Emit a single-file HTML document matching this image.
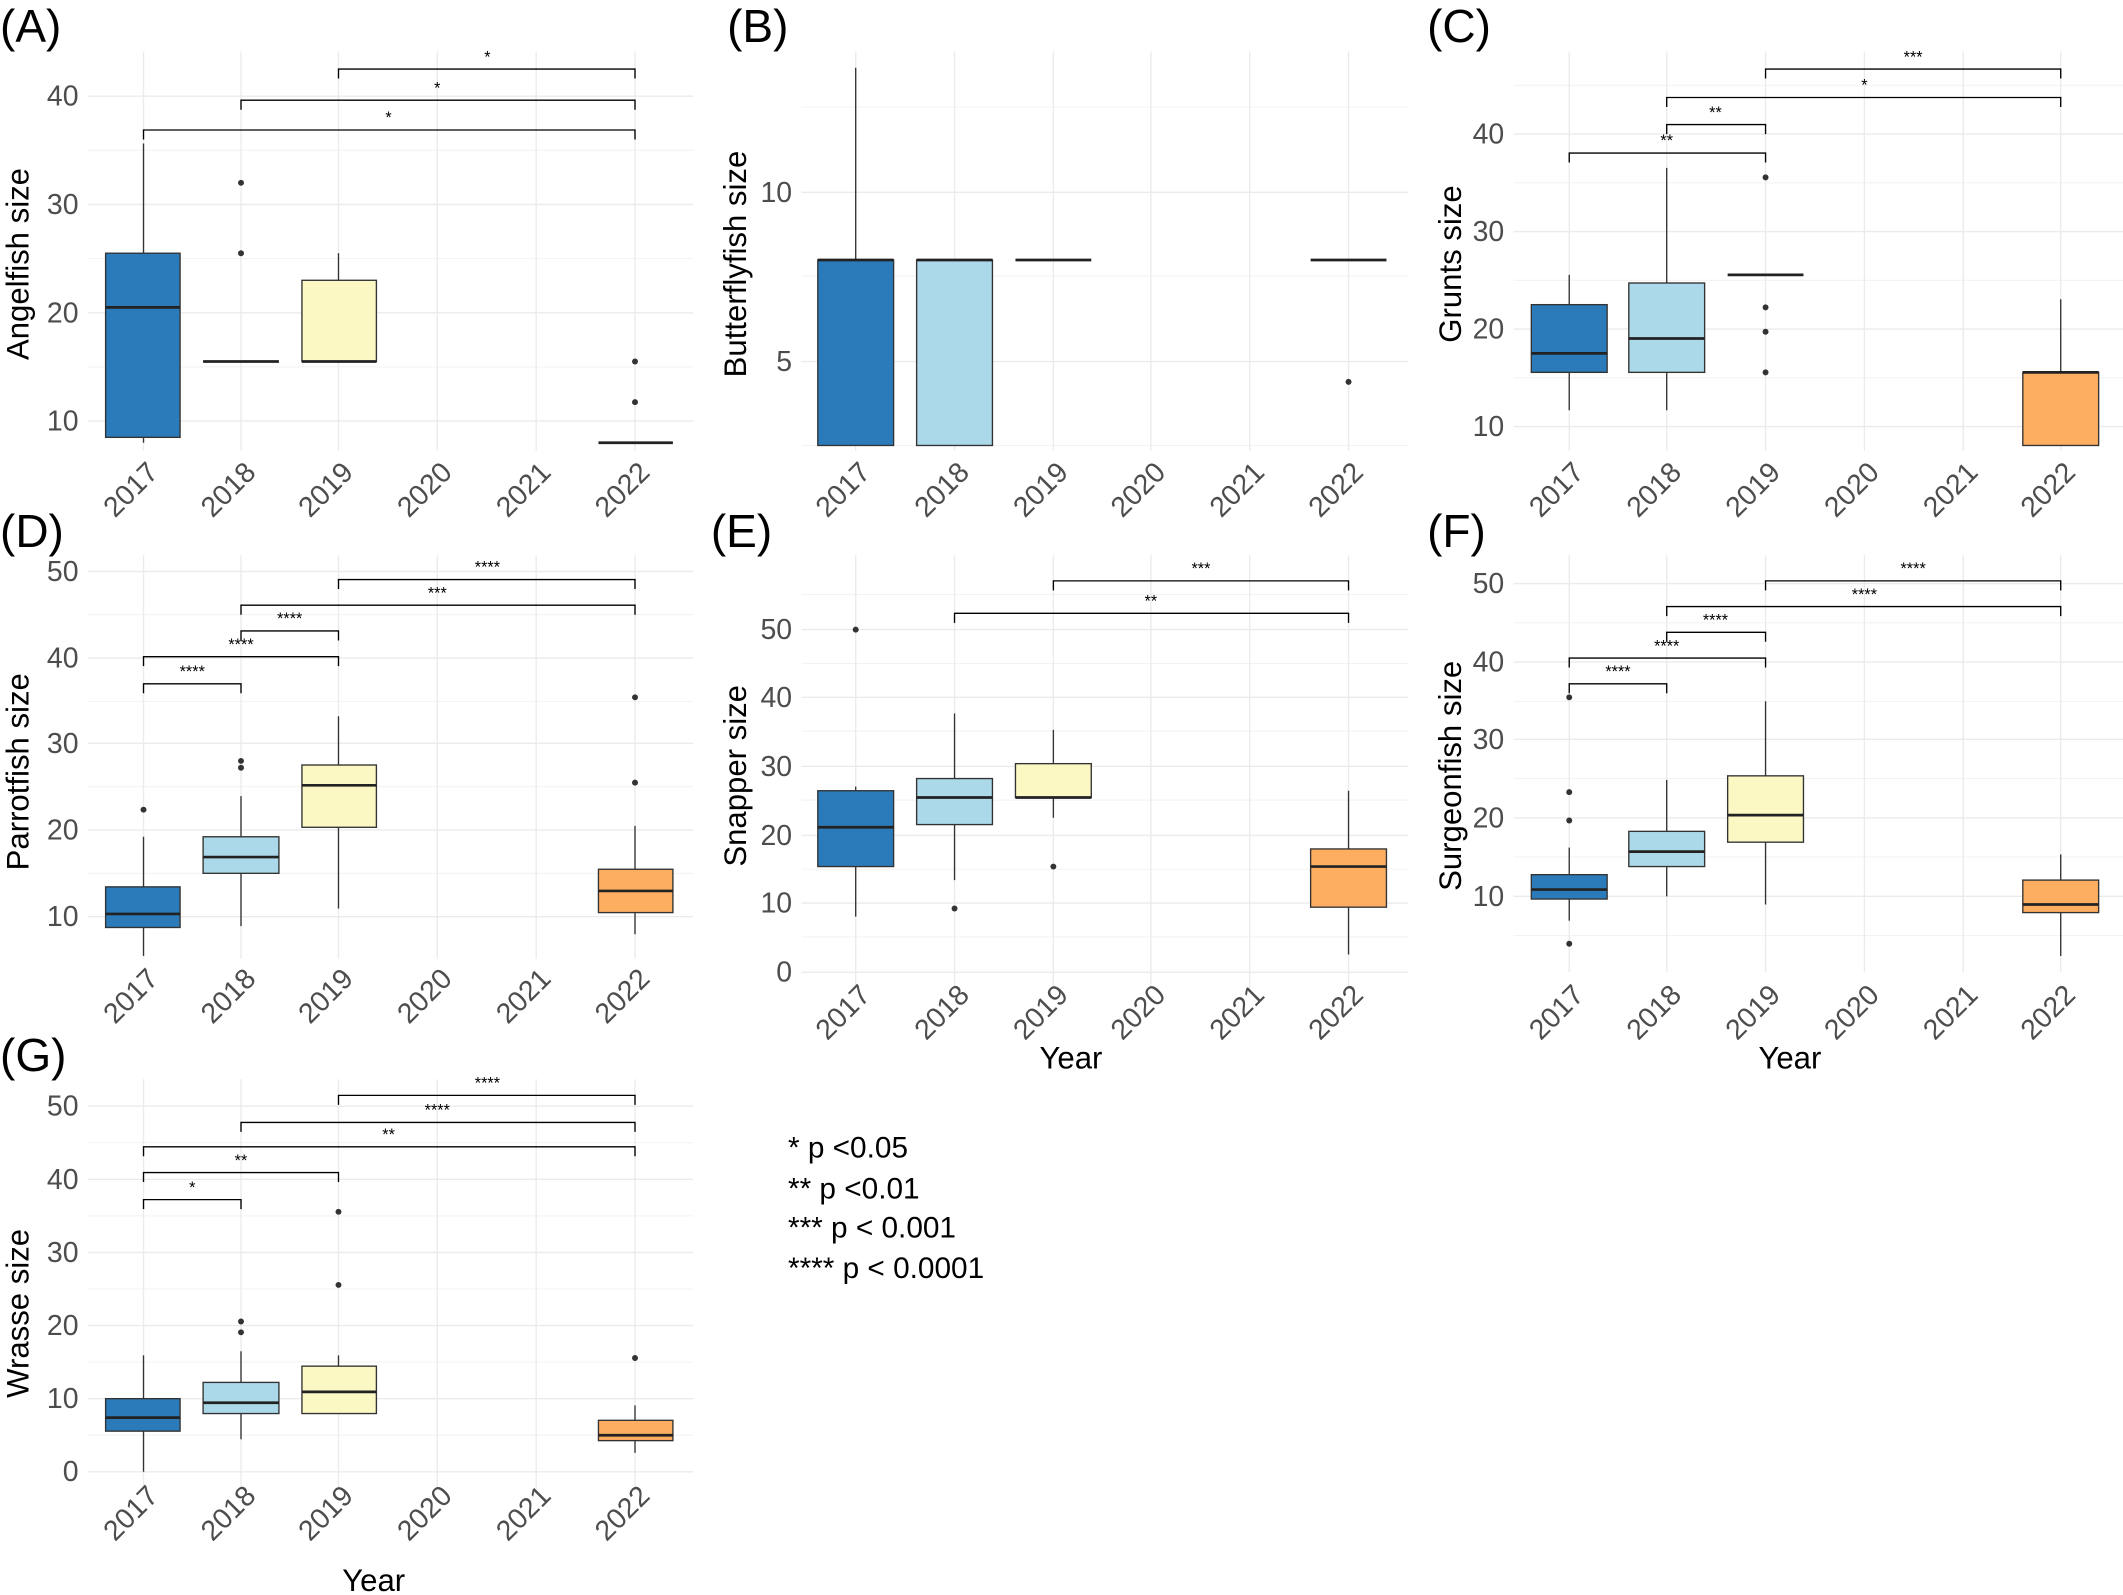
<!DOCTYPE html>
<html><head><meta charset="utf-8"><style>
html,body{margin:0;padding:0;background:#fff}
svg{display:block}
text{font-family:"Liberation Sans",sans-serif}
.g{stroke:#ebebeb;stroke-width:1}
.gm{stroke:#f3f3f3;stroke-width:0.8}
.yt{font-size:21px;fill:#4d4d4d;text-anchor:end}
.xt{font-size:21px;fill:#4d4d4d;text-anchor:end}
.at{font-size:23px;fill:#000;text-anchor:middle}
.pl{font-size:34px;fill:#000}
.bx{stroke:#333;stroke-width:1}
.md{stroke:#222;stroke-width:2}
.wh{stroke:#333;stroke-width:1}
.br{stroke:#000;stroke-width:1;fill:none}
.st{font-size:12px;text-anchor:middle;fill:#000}
.pt{fill:#333}
.lg{font-size:22px;fill:#000}
</style></head><body>
<svg width="2123" height="1595" viewBox="0 0 1568 1178" xmlns="http://www.w3.org/2000/svg">
<!-- ===== Panel A ===== -->
<g>
<line class="gm" x1="65" x2="512" y1="111" y2="111"/><line class="gm" x1="65" x2="512" y1="191" y2="191"/><line class="gm" x1="65" x2="512" y1="271" y2="271"/>
<line class="g" x1="65" x2="512" y1="71" y2="71"/><line class="g" x1="65" x2="512" y1="151" y2="151"/><line class="g" x1="65" x2="512" y1="231" y2="231"/><line class="g" x1="65" x2="512" y1="311" y2="311"/>
<line class="g" x1="106" x2="106" y1="38" y2="333"/><line class="g" x1="178" x2="178" y1="38" y2="333"/><line class="g" x1="250" x2="250" y1="38" y2="333"/><line class="g" x1="323" x2="323" y1="38" y2="333"/><line class="g" x1="396" x2="396" y1="38" y2="333"/><line class="g" x1="469" x2="469" y1="38" y2="333"/>
<text class="yt" x="58" y="78">40</text><text class="yt" x="58" y="158">30</text><text class="yt" x="58" y="238">20</text><text class="yt" x="58" y="318">10</text>
<text class="at" transform="translate(21,195) rotate(-90)">Angelfish size</text>
<text class="pl" x="0" y="31">(A)</text>
<line class="wh" x1="106" x2="106" y1="106" y2="327"/>
<rect class="bx" x="78" y="187" width="55" height="136" fill="#2b7bba"/><line class="md" x1="78" x2="133" y1="227" y2="227"/>
<line class="md" x1="150" x2="206" y1="267" y2="267"/>
<circle class="pt" cx="178" cy="135" r="2.2"/><circle class="pt" cx="178" cy="187" r="2.2"/>
<line class="wh" x1="250" x2="250" y1="187" y2="207"/>
<rect class="bx" x="223" y="207" width="55" height="60" fill="#fbf8c4"/><line class="md" x1="223" x2="278" y1="267" y2="267"/>
<line class="md" x1="442" x2="497" y1="327" y2="327"/>
<circle class="pt" cx="469" cy="267" r="2.2"/><circle class="pt" cx="469" cy="297" r="2.2"/>
<path class="br" d="M106,103V96H469V103"/><text class="st" x="287" y="91">*</text>
<path class="br" d="M178,81V74H469V81"/><text class="st" x="323" y="69">*</text>
<path class="br" d="M250,58V51H469V58"/><text class="st" x="360" y="46">*</text>
<text class="xt" transform="translate(118,350) rotate(-45)">2017</text><text class="xt" transform="translate(190,350) rotate(-45)">2018</text><text class="xt" transform="translate(262,350) rotate(-45)">2019</text><text class="xt" transform="translate(335,350) rotate(-45)">2020</text><text class="xt" transform="translate(408,350) rotate(-45)">2021</text><text class="xt" transform="translate(481,350) rotate(-45)">2022</text>
</g>
<!-- ===== Panel B ===== -->
<g>
<line class="gm" x1="592" x2="1040" y1="79" y2="79"/><line class="gm" x1="592" x2="1040" y1="204" y2="204"/><line class="gm" x1="592" x2="1040" y1="329" y2="329"/>
<line class="g" x1="592" x2="1040" y1="142" y2="142"/><line class="g" x1="592" x2="1040" y1="267" y2="267"/>
<line class="g" x1="632" x2="632" y1="38" y2="333"/><line class="g" x1="705" x2="705" y1="38" y2="333"/><line class="g" x1="778" x2="778" y1="38" y2="333"/><line class="g" x1="850" x2="850" y1="38" y2="333"/><line class="g" x1="923" x2="923" y1="38" y2="333"/><line class="g" x1="996" x2="996" y1="38" y2="333"/>
<text class="yt" x="585" y="149">10</text><text class="yt" x="585" y="274">5</text>
<text class="at" transform="translate(551,195) rotate(-90)">Butterflyfish size</text>
<text class="pl" x="537" y="31">(B)</text>
<line class="wh" x1="632" x2="632" y1="50" y2="192"/>
<rect class="bx" x="604" y="192" width="56" height="137" fill="#2b7bba"/><line class="md" x1="604" x2="660" y1="192" y2="192"/>
<rect class="bx" x="677" y="192" width="56" height="137" fill="#abd9e9"/><line class="md" x1="677" x2="733" y1="192" y2="192"/>
<line class="md" x1="750" x2="806" y1="192" y2="192"/>
<line class="md" x1="968" x2="1024" y1="192" y2="192"/>
<circle class="pt" cx="996" cy="282" r="2.2"/>
<text class="xt" transform="translate(644,350) rotate(-45)">2017</text><text class="xt" transform="translate(717,350) rotate(-45)">2018</text><text class="xt" transform="translate(790,350) rotate(-45)">2019</text><text class="xt" transform="translate(862,350) rotate(-45)">2020</text><text class="xt" transform="translate(935,350) rotate(-45)">2021</text><text class="xt" transform="translate(1008,350) rotate(-45)">2022</text>
</g>
<!-- ===== Panel C ===== -->
<g>
<line class="gm" x1="1118" x2="1568" y1="63" y2="63"/><line class="gm" x1="1118" x2="1568" y1="135" y2="135"/><line class="gm" x1="1118" x2="1568" y1="207" y2="207"/><line class="gm" x1="1118" x2="1568" y1="279" y2="279"/>
<line class="g" x1="1118" x2="1568" y1="99" y2="99"/><line class="g" x1="1118" x2="1568" y1="171" y2="171"/><line class="g" x1="1118" x2="1568" y1="243" y2="243"/><line class="g" x1="1118" x2="1568" y1="315" y2="315"/>
<line class="g" x1="1159" x2="1159" y1="38" y2="333"/><line class="g" x1="1231" x2="1231" y1="38" y2="333"/><line class="g" x1="1304" x2="1304" y1="38" y2="333"/><line class="g" x1="1377" x2="1377" y1="38" y2="333"/><line class="g" x1="1450" x2="1450" y1="38" y2="333"/><line class="g" x1="1522" x2="1522" y1="38" y2="333"/>
<text class="yt" x="1111" y="106">40</text><text class="yt" x="1111" y="178">30</text><text class="yt" x="1111" y="250">20</text><text class="yt" x="1111" y="322">10</text>
<text class="at" transform="translate(1079,195) rotate(-90)">Grunts size</text>
<text class="pl" x="1054" y="31">(C)</text>
<line class="wh" x1="1159" x2="1159" y1="203" y2="303"/>
<rect class="bx" x="1131" y="225" width="56" height="50" fill="#2b7bba"/><line class="md" x1="1131" x2="1187" y1="261" y2="261"/>
<line class="wh" x1="1231" x2="1231" y1="124" y2="303"/>
<rect class="bx" x="1203" y="209" width="56" height="66" fill="#abd9e9"/><line class="md" x1="1203" x2="1259" y1="250" y2="250"/>
<line class="md" x1="1276" x2="1332" y1="203" y2="203"/>
<circle class="pt" cx="1304" cy="131" r="2.2"/><circle class="pt" cx="1304" cy="227" r="2.2"/><circle class="pt" cx="1304" cy="245" r="2.2"/><circle class="pt" cx="1304" cy="275" r="2.2"/>
<line class="wh" x1="1522" x2="1522" y1="221" y2="275"/>
<rect class="bx" x="1494" y="275" width="56" height="54" fill="#fdae61"/><line class="md" x1="1494" x2="1550" y1="275" y2="275"/>
<path class="br" d="M1159,120V113H1304V120"/><text class="st" x="1231" y="108">**</text>
<path class="br" d="M1231,99V92H1304V99"/><text class="st" x="1267" y="87">**</text>
<path class="br" d="M1231,79V72H1522V79"/><text class="st" x="1377" y="67">*</text>
<path class="br" d="M1304,58V51H1522V58"/><text class="st" x="1413" y="46">***</text>
<text class="xt" transform="translate(1171,350) rotate(-45)">2017</text><text class="xt" transform="translate(1243,350) rotate(-45)">2018</text><text class="xt" transform="translate(1316,350) rotate(-45)">2019</text><text class="xt" transform="translate(1389,350) rotate(-45)">2020</text><text class="xt" transform="translate(1462,350) rotate(-45)">2021</text><text class="xt" transform="translate(1534,350) rotate(-45)">2022</text>
</g>
<!-- ===== Panel D ===== -->
<g>
<line class="gm" x1="65" x2="512" y1="454" y2="454"/><line class="gm" x1="65" x2="512" y1="518" y2="518"/><line class="gm" x1="65" x2="512" y1="581" y2="581"/><line class="gm" x1="65" x2="512" y1="645" y2="645"/>
<line class="g" x1="65" x2="512" y1="422" y2="422"/><line class="g" x1="65" x2="512" y1="486" y2="486"/><line class="g" x1="65" x2="512" y1="549" y2="549"/><line class="g" x1="65" x2="512" y1="613" y2="613"/><line class="g" x1="65" x2="512" y1="677" y2="677"/>
<line class="g" x1="106" x2="106" y1="410" y2="708"/><line class="g" x1="178" x2="178" y1="410" y2="708"/><line class="g" x1="250" x2="250" y1="410" y2="708"/><line class="g" x1="323" x2="323" y1="410" y2="708"/><line class="g" x1="396" x2="396" y1="410" y2="708"/><line class="g" x1="469" x2="469" y1="410" y2="708"/>
<text class="yt" x="58" y="429">50</text><text class="yt" x="58" y="493">40</text><text class="yt" x="58" y="556">30</text><text class="yt" x="58" y="620">20</text><text class="yt" x="58" y="684">10</text>
<text class="at" transform="translate(21,570) rotate(-90)">Parrotfish size</text>
<text class="pl" x="0" y="404">(D)</text>
<line class="wh" x1="106" x2="106" y1="618" y2="706"/>
<rect class="bx" x="78" y="655" width="55" height="30" fill="#2b7bba"/><line class="md" x1="78" x2="133" y1="675" y2="675"/>
<circle class="pt" cx="106" cy="598" r="2.2"/>
<line class="wh" x1="178" x2="178" y1="588" y2="684"/>
<rect class="bx" x="150" y="618" width="56" height="27" fill="#abd9e9"/><line class="md" x1="150" x2="206" y1="633" y2="633"/>
<circle class="pt" cx="178" cy="567" r="2.2"/><circle class="pt" cx="178" cy="562" r="2.2"/>
<line class="wh" x1="250" x2="250" y1="529" y2="671"/>
<rect class="bx" x="223" y="565" width="55" height="46" fill="#fbf8c4"/><line class="md" x1="223" x2="278" y1="580" y2="580"/>
<line class="wh" x1="469" x2="469" y1="610" y2="690"/>
<rect class="bx" x="442" y="642" width="55" height="32" fill="#fdae61"/><line class="md" x1="442" x2="497" y1="658" y2="658"/>
<circle class="pt" cx="469" cy="578" r="2.2"/><circle class="pt" cx="469" cy="515" r="2.2"/>
<path class="br" d="M106,512V505H178V512"/><text class="st" x="142" y="500">****</text>
<path class="br" d="M106,492V485H250V492"/><text class="st" x="178" y="480">****</text>
<path class="br" d="M178,473V466H250V473"/><text class="st" x="214" y="461">****</text>
<path class="br" d="M178,454V447H469V454"/><text class="st" x="323" y="442">***</text>
<path class="br" d="M250,435V428H469V435"/><text class="st" x="360" y="423">****</text>
<text class="xt" transform="translate(118,724) rotate(-45)">2017</text><text class="xt" transform="translate(190,724) rotate(-45)">2018</text><text class="xt" transform="translate(262,724) rotate(-45)">2019</text><text class="xt" transform="translate(335,724) rotate(-45)">2020</text><text class="xt" transform="translate(408,724) rotate(-45)">2021</text><text class="xt" transform="translate(481,724) rotate(-45)">2022</text>
</g>
<!-- ===== Panel E ===== -->
<g>
<line class="gm" x1="592" x2="1040" y1="490" y2="490"/><line class="gm" x1="592" x2="1040" y1="540" y2="540"/><line class="gm" x1="592" x2="1040" y1="591" y2="591"/><line class="gm" x1="592" x2="1040" y1="642" y2="642"/><line class="gm" x1="592" x2="1040" y1="692" y2="692"/><line class="gm" x1="592" x2="1040" y1="439" y2="439"/>
<line class="g" x1="592" x2="1040" y1="465" y2="465"/><line class="g" x1="592" x2="1040" y1="515" y2="515"/><line class="g" x1="592" x2="1040" y1="566" y2="566"/><line class="g" x1="592" x2="1040" y1="617" y2="617"/><line class="g" x1="592" x2="1040" y1="667" y2="667"/><line class="g" x1="592" x2="1040" y1="718" y2="718"/>
<line class="g" x1="632" x2="632" y1="410" y2="730"/><line class="g" x1="705" x2="705" y1="410" y2="730"/><line class="g" x1="778" x2="778" y1="410" y2="730"/><line class="g" x1="850" x2="850" y1="410" y2="730"/><line class="g" x1="923" x2="923" y1="410" y2="730"/><line class="g" x1="996" x2="996" y1="410" y2="730"/>
<text class="yt" x="585" y="472">50</text><text class="yt" x="585" y="522">40</text><text class="yt" x="585" y="573">30</text><text class="yt" x="585" y="624">20</text><text class="yt" x="585" y="674">10</text><text class="yt" x="585" y="725">0</text>
<text class="at" transform="translate(551,573) rotate(-90)">Snapper size</text>
<text class="pl" x="525" y="404">(E)</text>
<line class="wh" x1="632" x2="632" y1="581" y2="677"/>
<rect class="bx" x="604" y="584" width="56" height="56" fill="#2b7bba"/><line class="md" x1="604" x2="660" y1="611" y2="611"/>
<circle class="pt" cx="632" cy="465" r="2.2"/>
<line class="wh" x1="705" x2="705" y1="527" y2="650"/>
<rect class="bx" x="677" y="575" width="56" height="34" fill="#abd9e9"/><line class="md" x1="677" x2="733" y1="589" y2="589"/>
<circle class="pt" cx="705" cy="671" r="2.2"/>
<line class="wh" x1="778" x2="778" y1="539" y2="604"/>
<rect class="bx" x="750" y="564" width="56" height="25" fill="#fbf8c4"/><line class="md" x1="750" x2="806" y1="589" y2="589"/>
<circle class="pt" cx="778" cy="640" r="2.2"/>
<line class="wh" x1="996" x2="996" y1="584" y2="705"/>
<rect class="bx" x="968" y="627" width="56" height="43" fill="#fdae61"/><line class="md" x1="968" x2="1024" y1="640" y2="640"/>
<path class="br" d="M705,460V453H996V460"/><text class="st" x="850" y="448">**</text>
<path class="br" d="M778,436V429H996V436"/><text class="st" x="887" y="424">***</text>
<text class="xt" transform="translate(644,736) rotate(-45)">2017</text><text class="xt" transform="translate(717,736) rotate(-45)">2018</text><text class="xt" transform="translate(790,736) rotate(-45)">2019</text><text class="xt" transform="translate(862,736) rotate(-45)">2020</text><text class="xt" transform="translate(935,736) rotate(-45)">2021</text><text class="xt" transform="translate(1008,736) rotate(-45)">2022</text>
<text class="at" x="791" y="789">Year</text>
</g>
<!-- ===== Panel F ===== -->
<g>
<line class="gm" x1="1118" x2="1568" y1="460" y2="460"/><line class="gm" x1="1118" x2="1568" y1="518" y2="518"/><line class="gm" x1="1118" x2="1568" y1="575" y2="575"/><line class="gm" x1="1118" x2="1568" y1="633" y2="633"/><line class="gm" x1="1118" x2="1568" y1="691" y2="691"/>
<line class="g" x1="1118" x2="1568" y1="431" y2="431"/><line class="g" x1="1118" x2="1568" y1="489" y2="489"/><line class="g" x1="1118" x2="1568" y1="546" y2="546"/><line class="g" x1="1118" x2="1568" y1="604" y2="604"/><line class="g" x1="1118" x2="1568" y1="662" y2="662"/>
<line class="g" x1="1159" x2="1159" y1="410" y2="718"/><line class="g" x1="1231" x2="1231" y1="410" y2="718"/><line class="g" x1="1304" x2="1304" y1="410" y2="718"/><line class="g" x1="1377" x2="1377" y1="410" y2="718"/><line class="g" x1="1450" x2="1450" y1="410" y2="718"/><line class="g" x1="1522" x2="1522" y1="410" y2="718"/>
<text class="yt" x="1111" y="438">50</text><text class="yt" x="1111" y="496">40</text><text class="yt" x="1111" y="553">30</text><text class="yt" x="1111" y="611">20</text><text class="yt" x="1111" y="669">10</text>
<text class="at" transform="translate(1079,573) rotate(-90)">Surgeonfish size</text>
<text class="pl" x="1054" y="404">(F)</text>
<line class="wh" x1="1159" x2="1159" y1="626" y2="680"/>
<rect class="bx" x="1131" y="646" width="56" height="18" fill="#2b7bba"/><line class="md" x1="1131" x2="1187" y1="657" y2="657"/>
<circle class="pt" cx="1159" cy="697" r="2.2"/><circle class="pt" cx="1159" cy="606" r="2.2"/><circle class="pt" cx="1159" cy="585" r="2.2"/><circle class="pt" cx="1159" cy="515" r="2.2"/>
<line class="wh" x1="1231" x2="1231" y1="576" y2="662"/>
<rect class="bx" x="1203" y="614" width="56" height="26" fill="#abd9e9"/><line class="md" x1="1203" x2="1259" y1="629" y2="629"/>
<line class="wh" x1="1304" x2="1304" y1="518" y2="668"/>
<rect class="bx" x="1276" y="573" width="56" height="49" fill="#fbf8c4"/><line class="md" x1="1276" x2="1332" y1="602" y2="602"/>
<line class="wh" x1="1522" x2="1522" y1="631" y2="706"/>
<rect class="bx" x="1494" y="650" width="56" height="24" fill="#fdae61"/><line class="md" x1="1494" x2="1550" y1="668" y2="668"/>
<path class="br" d="M1159,512V505H1231V512"/><text class="st" x="1195" y="500">****</text>
<path class="br" d="M1159,493V486H1304V493"/><text class="st" x="1231" y="481">****</text>
<path class="br" d="M1231,474V467H1304V474"/><text class="st" x="1267" y="462">****</text>
<path class="br" d="M1231,455V448H1522V455"/><text class="st" x="1377" y="443">****</text>
<path class="br" d="M1304,436V429H1522V436"/><text class="st" x="1413" y="424">****</text>
<text class="xt" transform="translate(1171,736) rotate(-45)">2017</text><text class="xt" transform="translate(1243,736) rotate(-45)">2018</text><text class="xt" transform="translate(1316,736) rotate(-45)">2019</text><text class="xt" transform="translate(1389,736) rotate(-45)">2020</text><text class="xt" transform="translate(1462,736) rotate(-45)">2021</text><text class="xt" transform="translate(1534,736) rotate(-45)">2022</text>
<text class="at" x="1322" y="789">Year</text>
</g>
<!-- ===== Panel G ===== -->
<g>
<line class="gm" x1="65" x2="512" y1="844" y2="844"/><line class="gm" x1="65" x2="512" y1="898" y2="898"/><line class="gm" x1="65" x2="512" y1="952" y2="952"/><line class="gm" x1="65" x2="512" y1="1006" y2="1006"/><line class="gm" x1="65" x2="512" y1="1060" y2="1060"/>
<line class="g" x1="65" x2="512" y1="817" y2="817"/><line class="g" x1="65" x2="512" y1="871" y2="871"/><line class="g" x1="65" x2="512" y1="925" y2="925"/><line class="g" x1="65" x2="512" y1="979" y2="979"/><line class="g" x1="65" x2="512" y1="1033" y2="1033"/><line class="g" x1="65" x2="512" y1="1087" y2="1087"/>
<line class="g" x1="106" x2="106" y1="797" y2="1100"/><line class="g" x1="178" x2="178" y1="797" y2="1100"/><line class="g" x1="250" x2="250" y1="797" y2="1100"/><line class="g" x1="323" x2="323" y1="797" y2="1100"/><line class="g" x1="396" x2="396" y1="797" y2="1100"/><line class="g" x1="469" x2="469" y1="797" y2="1100"/>
<text class="yt" x="58" y="824">50</text><text class="yt" x="58" y="878">40</text><text class="yt" x="58" y="932">30</text><text class="yt" x="58" y="986">20</text><text class="yt" x="58" y="1040">10</text><text class="yt" x="58" y="1094">0</text>
<text class="at" transform="translate(21,970) rotate(-90)">Wrasse size</text>
<text class="pl" x="0" y="791">(G)</text>
<line class="wh" x1="106" x2="106" y1="1001" y2="1087"/>
<rect class="bx" x="78" y="1033" width="55" height="24" fill="#2b7bba"/><line class="md" x1="78" x2="133" y1="1047" y2="1047"/>
<line class="wh" x1="178" x2="178" y1="998" y2="1063"/>
<rect class="bx" x="150" y="1021" width="56" height="23" fill="#abd9e9"/><line class="md" x1="150" x2="206" y1="1036" y2="1036"/>
<circle class="pt" cx="178" cy="984" r="2.2"/><circle class="pt" cx="178" cy="976" r="2.2"/>
<line class="wh" x1="250" x2="250" y1="1001" y2="1044"/>
<rect class="bx" x="223" y="1009" width="55" height="35" fill="#fbf8c4"/><line class="md" x1="223" x2="278" y1="1028" y2="1028"/>
<circle class="pt" cx="250" cy="949" r="2.2"/><circle class="pt" cx="250" cy="895" r="2.2"/>
<line class="wh" x1="469" x2="469" y1="1038" y2="1073"/>
<rect class="bx" x="442" y="1049" width="55" height="15" fill="#fdae61"/><line class="md" x1="442" x2="497" y1="1060" y2="1060"/>
<circle class="pt" cx="469" cy="1003" r="2.2"/>
<path class="br" d="M106,893V886H178V893"/><text class="st" x="142" y="881">*</text>
<path class="br" d="M106,873V866H250V873"/><text class="st" x="178" y="861">**</text>
<path class="br" d="M106,854V847H469V854"/><text class="st" x="287" y="842">**</text>
<path class="br" d="M178,836V829H469V836"/><text class="st" x="323" y="824">****</text>
<path class="br" d="M250,816V809H469V816"/><text class="st" x="360" y="804">****</text>
<text class="xt" transform="translate(118,1106) rotate(-45)">2017</text><text class="xt" transform="translate(190,1106) rotate(-45)">2018</text><text class="xt" transform="translate(262,1106) rotate(-45)">2019</text><text class="xt" transform="translate(335,1106) rotate(-45)">2020</text><text class="xt" transform="translate(408,1106) rotate(-45)">2021</text><text class="xt" transform="translate(481,1106) rotate(-45)">2022</text>
<text class="at" x="276" y="1175">Year</text>
</g>
<!-- Legend -->
<text class="lg" x="582" y="855">* p &lt;0.05</text>
<text class="lg" x="582" y="885">** p &lt;0.01</text>
<text class="lg" x="582" y="914">*** p &lt; 0.001</text>
<text class="lg" x="582" y="944">**** p &lt; 0.0001</text>
</svg>
</body></html>
